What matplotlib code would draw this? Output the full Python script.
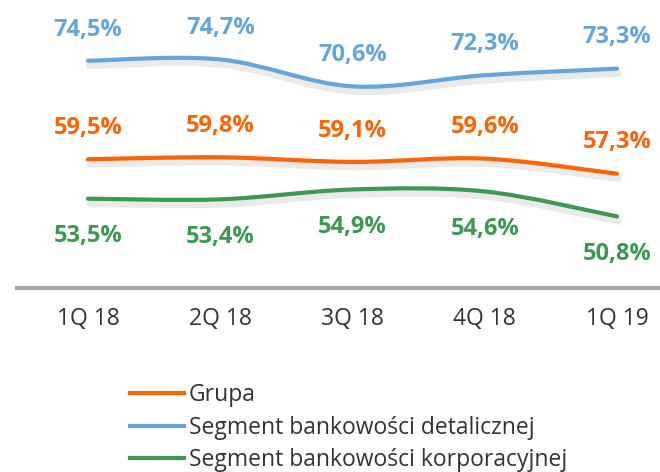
import numpy as np
from matplotlib import pyplot as plt
from matplotlib.path import Path
from matplotlib.patches import PathPatch
from matplotlib.lines import Line2D
import matplotlib.patheffects as pe

plt.rcParams['font.family'] = ['Open Sans', 'DejaVu Sans']

kwartaly = ['1Q 18', '2Q 18', '3Q 18', '4Q 18', '1Q 19']
grupa = [59.5, 59.8, 59.1, 59.6, 57.3]
detal = [74.5, 74.7, 70.6, 72.3, 73.3]
korpo = [53.5, 53.4, 54.9, 54.6, 50.8]
nazwy = ['Grupa', 'Segment bankowości detalicznej', 'Segment bankowości korporacyjnej']

c_or = '#FF6200'
c_bl = '#62A6DD'
c_gr = '#3A9A52'


def gladka(ax, y, kolor):
    # krzywa wygladzona (Catmull-Rom -> Bezier), jak w Excelu
    x = np.arange(len(y), dtype=float)
    p = np.column_stack([x, np.asarray(y, dtype=float)])
    verts = [p[0]]
    codes = [Path.MOVETO]
    for i in range(len(p) - 1):
        p0 = p[i - 1] if i > 0 else p[i]
        p3 = p[i + 2] if i + 2 < len(p) else p[i + 1]
        c1 = p[i] + (p[i + 1] - p0) / 6
        c2 = p[i + 1] - (p3 - p[i]) / 6
        verts += [c1, c2, p[i + 1]]
        codes += [Path.CURVE4] * 3
    patch = PathPatch(Path(verts, codes), fill=False, edgecolor=kolor, lw=3,
                      capstyle='round')
    patch.set_path_effects([pe.SimpleLineShadow(offset=(1, -3.5), shadow_color='#999999',
                                                alpha=0.2, linewidth=5), pe.Normal()])
    ax.add_patch(patch)


fig = plt.figure(figsize=(6.6, 4.72), dpi=100)
ax = fig.add_axes([17 / 660, 1 - 288 / 472, 643 / 660, 288 / 472])

for seria, kolor, dy in [(detal, c_bl, 22.5), (grupa, c_or, 22.5), (korpo, c_gr, -27)]:
    gladka(ax, seria, kolor)
    for i, v in enumerate(seria):
        ax.annotate(('%.1f%%' % v).replace('.', ','), (i, v), xytext=(0, dy),
                    textcoords='offset points', ha='center', va='center',
                    color=kolor, fontsize=17, fontweight='bold')

ax.set_xlim(-0.537, 4.325)
ax.set_ylim(39.9, 83.75)
ax.set_xticks(range(len(kwartaly)))
ax.set_xticklabels(kwartaly, fontsize=16.5, color='#333333')
ax.tick_params(axis='x', length=0, pad=14)
ax.set_yticks([])
for s in ['top', 'right', 'left']:
    ax.spines[s].set_visible(False)
ax.spines['bottom'].set_color('#A6A6A6')
ax.spines['bottom'].set_linewidth(3)

uchwyty = [Line2D([], [], color=k, lw=3) for k in [c_or, c_bl, c_gr]]
fig.legend(uchwyty, nazwy, loc='lower left', bbox_to_anchor=(109 / 660, -21 / 472),
           frameon=False, fontsize=16.5, handlelength=2.36, handletextpad=0.22,
           labelspacing=0.38, labelcolor='#333333')

plt.savefig('out.png')
